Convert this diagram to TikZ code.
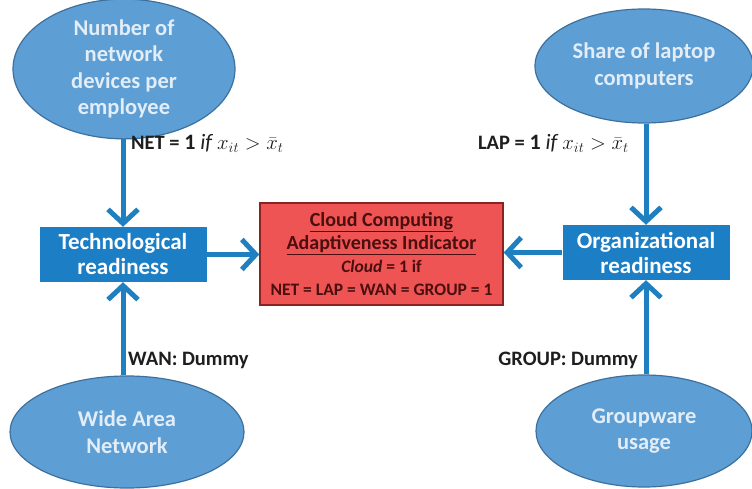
\documentclass[tikz,border=0pt]{standalone}
\usepackage{fontspec}
\setmainfont{Carlito}
\usetikzlibrary{shapes.geometric,arrows.meta}
\definecolor{ellfill}{RGB}{93,158,212}
\definecolor{ellline}{RGB}{62,112,158}
\definecolor{elltext}{RGB}{226,237,248}
\definecolor{boxblue}{RGB}{28,126,196}
\definecolor{flow}{RGB}{30,128,192}
\definecolor{redfill}{RGB}{238,84,84}
\definecolor{redline}{RGB}{140,35,35}
\definecolor{redtext}{RGB}{75,15,15}
\definecolor{labtext}{RGB}{30,30,30}
\newcommand{\abovemean}{{\fontsize{22}{24}\selectfont$\mathbf{1}\ \mathit{if}\ x_{it} > \bar{x}_t$}}

\begin{document}
\begin{tikzpicture}[x=1pt,y=-1pt,
  factor/.style={ellipse, draw=ellline, line width=1.2pt, fill=ellfill,
    text=elltext, inner sep=0pt, align=center,
    font=\fontsize{22.5}{26.5}\selectfont\bfseries},
  ready/.style={rectangle, fill=boxblue, text=white, minimum width=167pt,
    minimum height=55pt, inner sep=0pt, align=center,
    font=\fontsize{23}{25}\selectfont\bfseries},
  index/.style={rectangle, draw=redline, line width=1.5pt, fill=redfill,
    text=redtext, minimum width=243pt, minimum height=102pt, align=center,
    inner sep=0pt, font=\fontsize{20}{23}\selectfont\bfseries},
  flowline/.style={draw=flow, line width=5pt,
    -{Straight Barb[length=14pt,width=30pt]}},
  cond/.style={text=labtext, inner sep=0pt,
    font=\fontsize{20.5}{24}\selectfont\bfseries}
]
\useasboundingbox[fill=white] (0,0) rectangle (752,489);

% input factors
\node[factor, minimum width=222pt, minimum height=112pt] (net) at (124,69)
  {Number of\\network\\devices per\\employee};
\node[factor, minimum width=218pt, minimum height=114pt] (lap) at (644,66)
  {Share of laptop\\computers};
\node[factor, minimum width=234pt, minimum height=112pt] (wan) at (127,432)
  {Wide Area\\Network};
\node[factor, minimum width=216pt, minimum height=112pt] (grp) at (644,431)
  {Groupware\\usage};

% readiness dimensions
\node[ready] (tech) at (123,254.5) {Technological\\readiness};
\node[ready] (org) at (646,252.5) {Organizational\\readiness};

% composite indicator
\node[index] (cloud) at (381.5,254)
  {\underline{Cloud Computing}\\
   \underline{Adaptiveness Indicator}\\
   {\fontsize{17.5}{22}\selectfont\textit{Cloud} = 1 if}\\
   {\fontsize{17.5}{22}\selectfont NET = LAP = WAN = GROUP = 1}};

% connectors
\draw[flowline] (net.south -| tech.north) -- (tech.north);
\draw[flowline] (wan.north -| tech.south) -- (tech.south);
\draw[flowline] (lap.south -| org.north) -- (org.north);
\draw[flowline] (grp.north -| org.south) -- (org.south);
\draw[flowline] (tech.east) -- (tech.east -| cloud.west);
\draw[flowline] (org.west) -- (org.west -| cloud.east);

% variable definitions
\node[cond, anchor=west] (netdef) at (131,143) {NET = \abovemean};
\node[cond, anchor=east] (lapdef) at (629,143) {LAP = \abovemean};
\node[cond, anchor=west] (wandef) at (128,360) {WAN: Dummy};
\node[cond, anchor=east] (grpdef) at (638,360) {GROUP: Dummy};
\end{tikzpicture}
\end{document}
